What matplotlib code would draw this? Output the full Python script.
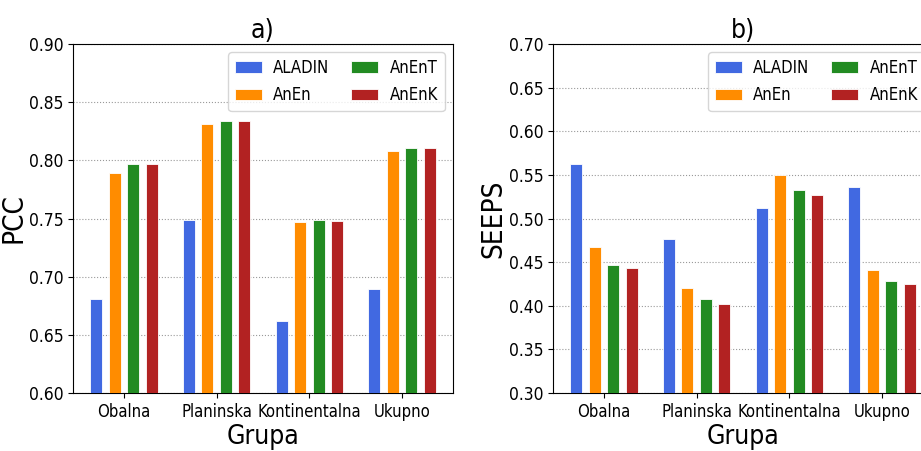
import matplotlib
matplotlib.use("Agg")
import matplotlib.pyplot as plt
import numpy as np

groups = ["Obalna", "Planinska", "Kontinentalna", "Ukupno"]
models = ["ALADIN", "AnEn", "AnEnT", "AnEnK"]
colors = ["royalblue", "darkorange", "forestgreen", "firebrick"]

pcc = {
    "ALADIN": [0.681, 0.749, 0.662, 0.689],
    "AnEn": [0.789, 0.831, 0.747, 0.808],
    "AnEnT": [0.797, 0.834, 0.749, 0.811],
    "AnEnK": [0.797, 0.834, 0.748, 0.811],
}
seeps = {
    "ALADIN": [0.563, 0.476, 0.512, 0.536],
    "AnEn": [0.467, 0.420, 0.550, 0.441],
    "AnEnT": [0.447, 0.408, 0.533, 0.428],
    "AnEnK": [0.443, 0.402, 0.527, 0.425],
}

plt.rcParams["font.family"] = ["DejaVu Sans"]
plt.rcParams["font.stretch"] = "condensed"


def draw_panel(ax, data, ylim, ylabel, title):
    x = np.arange(len(groups))
    for i, (m, c) in enumerate(zip(models, colors)):
        ax.bar(x + (i - 1.5) * 0.2, data[m], width=0.13, color=c,
               edgecolor="white", linewidth=0.6, label=m, zorder=3)
    ax.set_ylim(*ylim)
    ax.set_yticks(np.arange(ylim[0], ylim[1] + 0.001, 0.05))
    ax.set_xticks(x)
    ax.set_xticklabels(groups, fontsize=12)
    ax.tick_params(axis="y", labelsize=12.5)
    ax.grid(axis="y", linestyle=":", color="gray", linewidth=0.8, alpha=0.8)
    ax.set_ylabel(ylabel, fontsize=20)
    ax.yaxis.set_label_coords(-0.12, 0.5)
    ax.set_xlabel("Grupa", fontsize=19, labelpad=2)
    ax.set_title(title, fontsize=19, pad=4)
    ax.legend(ncol=2, loc="upper right", fontsize=12, handlelength=1.6,
              handletextpad=0.7, columnspacing=1.3, labelspacing=0.55,
              borderaxespad=0.5)


fig = plt.figure(figsize=(9.21, 4.51), dpi=100)
ax1 = fig.add_axes([73 / 921, 1 - 393 / 451, 380 / 921, 349 / 451])
ax2 = fig.add_axes([553 / 921, 1 - 393 / 451, 380 / 921, 349 / 451])
draw_panel(ax1, pcc, (0.60, 0.90), "PCC", "a)")
draw_panel(ax2, seeps, (0.30, 0.70), "SEEPS", "b)")

fig.savefig("out.png", dpi=100)
